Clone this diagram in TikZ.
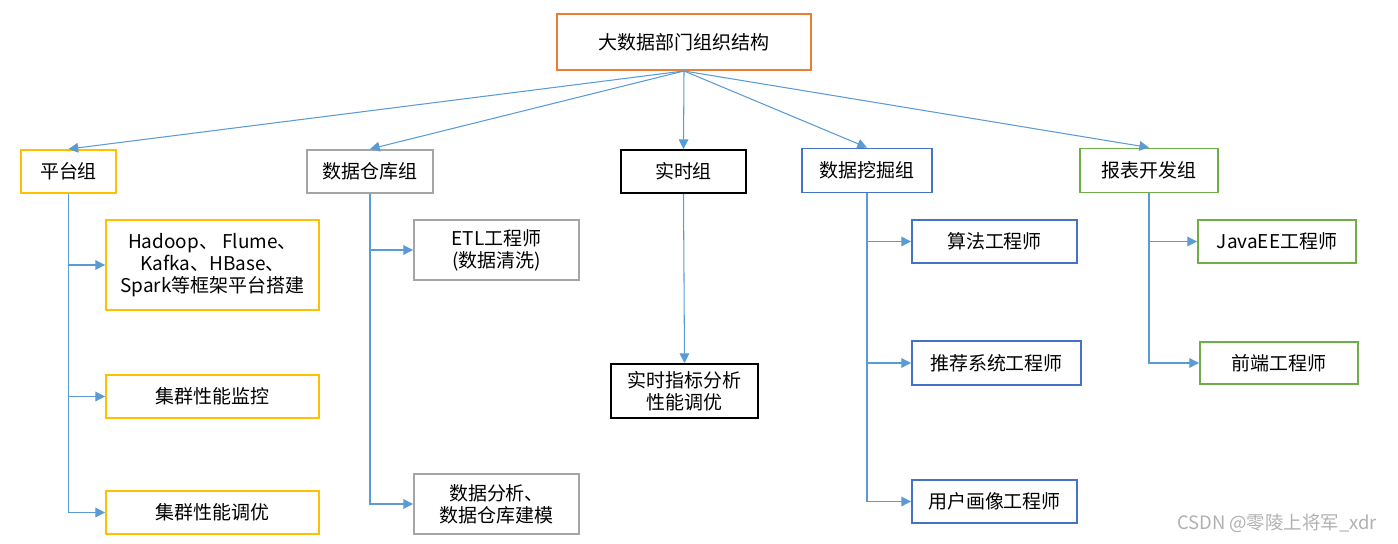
\documentclass[tikz,border=0pt]{standalone}
\usepackage{fontspec}
\setmainfont{Noto Sans CJK SC}
\usepackage{xcolor}
\usetikzlibrary{arrows.meta, positioning, calc}
\definecolor{colTop}{HTML}{ED7D31}
\definecolor{colPlat}{HTML}{FFC000}
\definecolor{colWare}{HTML}{A5A5A5}
\definecolor{colReal}{HTML}{000000}
\definecolor{colMine}{HTML}{4472C4}
\definecolor{colReport}{HTML}{70AD47}
\definecolor{colLink}{HTML}{5B9BD5}
\definecolor{colMark}{HTML}{B0B0B0}

\begin{document}
\begin{tikzpicture}[
    >={Triangle[length=5.5pt, width=5.5pt]},
    basebox/.style={
        rectangle, draw, fill=white, line width=1.1pt,
        align=center, inner sep=2pt,
        font=\fontsize{10.8pt}{12.5pt}\selectfont
    },
    topbox/.style={basebox, draw=colTop, minimum width=5.08cm, minimum height=1.12cm},
    platbox/.style={basebox, draw=colPlat, minimum height=0.86cm},
    warebox/.style={basebox, draw=colWare, minimum height=0.86cm},
    realbox/.style={basebox, draw=colReal, minimum height=0.86cm},
    minebox/.style={basebox, draw=colMine, minimum height=0.88cm},
    reportbox/.style={basebox, draw=colReport, minimum height=0.88cm},
    link/.style={->, draw=colLink, line width=0.6pt},
    watermark/.style={font=\fontsize{10.5pt}{12pt}\selectfont, text=colMark, inner sep=0pt}
]
    \useasboundingbox (0,0) rectangle (27.96,-10.88);

    % --- TOP ---
    \node[topbox] (dept) at (13.68,-0.84) {大数据部门组织结构};

    % --- GROUPS ---
    \node[platbox, minimum width=1.9cm] (plat) at (1.37,-3.43) {平台组};
    \node[warebox, minimum width=2.52cm] (ware) at (7.40,-3.43) {数据仓库组};
    \node[realbox, minimum width=2.5cm] (real) at (13.67,-3.43) {实时组};
    \node[minebox, minimum width=2.6cm] (mine) at (17.34,-3.41) {数据挖掘组};
    \node[reportbox, minimum width=2.76cm] (report) at (22.98,-3.41) {报表开发组};

    \foreach \grp in {plat, ware, real, mine, report}
        \draw[link] (dept.south) -- (\grp.north);

    % --- PLATFORM ---
    \node[platbox, minimum width=4.26cm, minimum height=1.8cm] (platA) at (4.25,-5.30)
        {Hadoop、 Flume、\\Kafka、HBase、\\Spark等框架平台搭建};
    \node[platbox, minimum width=4.26cm] (platB) at (4.25,-7.93) {集群性能监控};
    \node[platbox, minimum width=4.26cm] (platC) at (4.25,-10.25) {集群性能调优};

    % --- WAREHOUSE ---
    \node[warebox, minimum width=3.3cm, minimum height=1.2cm] (wareA) at (9.93,-5.00)
        {ETL工程师\\(数据清洗)};
    \node[warebox, minimum width=3.3cm, minimum height=1.2cm] (wareB) at (9.93,-10.08)
        {数据分析、\\数据仓库建模};

    % --- REAL TIME ---
    \node[realbox, minimum width=2.94cm, minimum height=1.08cm] (realA) at (13.69,-7.82)
        {实时指标分析\\性能调优};

    % --- MINING ---
    \node[minebox, minimum width=3.3cm, minimum height=0.86cm] (mineA) at (19.89,-4.83) {算法工程师};
    \node[minebox, minimum width=3.38cm] (mineB) at (19.93,-7.26) {推荐系统工程师};
    \node[minebox, minimum width=3.3cm, minimum height=0.86cm] (mineC) at (19.89,-10.03) {用户画像工程师};

    % --- REPORT ---
    \node[reportbox, minimum width=3.16cm, minimum height=0.86cm] (reportA) at (25.54,-4.83) {JavaEE工程师};
    \node[reportbox, minimum width=3.16cm, minimum height=0.84cm] (reportB) at (25.58,-7.26) {前端工程师};

    % --- CHILD LINKS ---
    \foreach \grp/\kid in {plat/platA, plat/platB, plat/platC,
                           ware/wareA, ware/wareB,
                           mine/mineA, mine/mineB, mine/mineC,
                           report/reportA, report/reportB}
        \draw[link] (\grp.south) |- (\kid.west);
    \draw[link] (real.south) -- (realA.north);

    \node[watermark] (mark) at (25.54,-10.46) {CSDN @零陵上将军\_xdr};

\end{tikzpicture}
\end{document}
